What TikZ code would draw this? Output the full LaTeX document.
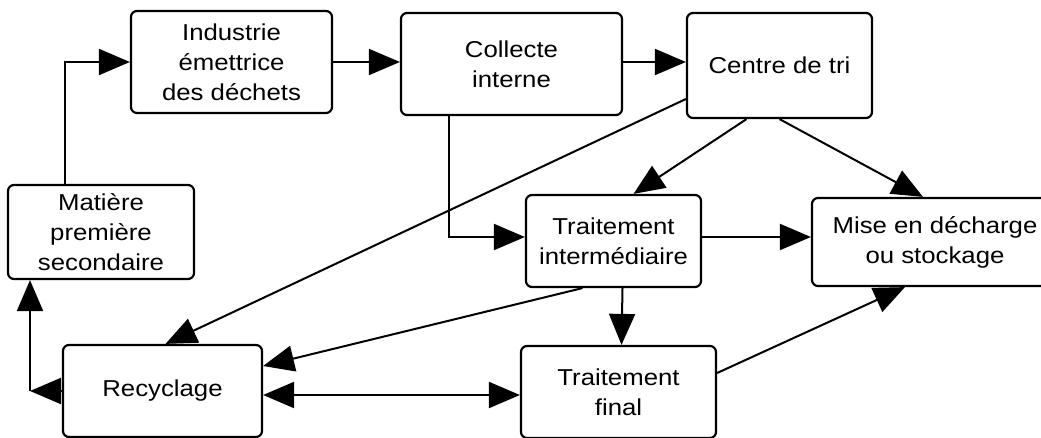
\documentclass[tikz,border=0pt]{standalone}
\usepackage{fontspec}
\setmainfont{Liberation Sans}[FakeStretch=1.12]
\usetikzlibrary{positioning, arrows.meta, calc}

\begin{document}
\begin{tikzpicture}[
    x=1pt, y=-1pt,
    >={Triangle[length=31pt, width=26pt]},
    flow/.style={->, line width=2pt},
    box/.style={draw, rounded corners=6pt, line width=2.2pt, align=center, inner sep=2pt, fill=white, font=\fontsize{23}{30}\selectfont}
]
\clip (0,0) rectangle (1041,438);
\node[box, minimum width=201, minimum height=102] (Industrie) at (231.5, 62) {Industrie\\émettrice\\des déchets};
\node[box, minimum width=221, minimum height=102] (Collecte) at (511.5, 64) {Collecte\\interne};
\node[box, minimum width=185, minimum height=105] (Tri) at (779.5, 65.5) {Centre de tri};
\node[box, minimum width=186, minimum height=94] (Matiere) at (101, 232) {Matière\\première\\secondaire};
\node[box, minimum width=175, minimum height=92] (Intermediaire) at (613.5, 241) {Traitement\\intermédiaire};
\node[box, minimum width=246, minimum height=88] (Decharge) at (935, 242) {Mise en décharge\\ou stockage};
\node[box, minimum width=199, minimum height=92] (Recyclage) at (162.5, 391) {Recyclage};
\node[box, minimum width=195, minimum height=92] (Final) at (618.5, 392) {Traitement\\final};
\coordinate (coin) at (30, 391);

\draw[flow] ([xshift=-36pt]Matiere.north) |- (Industrie.west);
\draw[flow] (Industrie.east) -- (Industrie.east -| Collecte.west);
\draw[flow] ([yshift=2pt]Collecte.east) -- ([yshift=2pt]Collecte.east -| Tri.west);
\draw[flow] ([xshift=-62.5pt]Collecte.south) |- ([yshift=4pt]Intermediaire.west);
\draw[flow] ([xshift=-33pt]Tri.south) -- ([xshift=20pt]Intermediaire.north);
\draw[flow] ([xshift=0pt]Tri.south) -- ([xshift=-12pt]Decharge.north);
\draw[flow] ([yshift=-33.5pt]Tri.west) -- ([xshift=3pt]Recyclage.north);
\draw[flow] ([yshift=4pt]Intermediaire.east) -- ([yshift=5pt]Decharge.west);
\draw[flow] ([xshift=9pt]Intermediaire.south) -- ([xshift=3pt]Final.north);
\draw[flow] ([xshift=-31pt]Intermediaire.south) -- ([yshift=25pt]Recyclage.east);
\draw[flow, <->] ([yshift=-4pt]Recyclage.east) -- ([yshift=-3pt]Final.west);
\draw[flow] ([yshift=19pt]Final.east) -- ([xshift=-30pt]Decharge.south);
\draw[flow] (Recyclage.west) -- (coin);
\draw[flow] (coin) -- (coin |- Matiere.south);
\end{tikzpicture}
\end{document}
